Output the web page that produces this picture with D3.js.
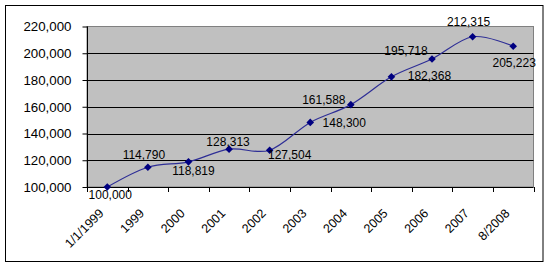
<!DOCTYPE html>
<html>
<head>
<meta charset="utf-8">
<script src="https://cdn.jsdelivr.net/npm/d3@7"></script>
<style>
  html, body { margin: 0; padding: 0; background: #fff; }
  svg { display: block; font-family: Arial, "Liberation Sans", sans-serif; }
</style>
</head>
<body>
<svg id="chart" width="550" height="268"></svg>
<script>
const categories = ["1/1/1999", "1999", "2000", "2001", "2002", "2003", "2004", "2005", "2006", "2007", "8/2008"];
const values = [100000, 114790, 118819, 128313, 127504, 148300, 161588, 182368, 195718, 212315, 205223];
const yTicks = [100000, 120000, 140000, 160000, 180000, 200000, 220000];
// label offsets (px) relative to each point, as placed in the original
const labelDx = [3, -4, 5, -1, 20, 34, -27, 38, -26, -4, 1];
const labelDy = [8, -12, 9, -7, 5, 0, -5, -1, -8, -15, 17];

const svg = d3.select("#chart");
const m = { left: 87, right: 533.5, top: 26.5, bottom: 187 };

// outer chart border
svg.append("rect").attr("x", 5.5).attr("y", 5.5).attr("width", 537.5).attr("height", 256)
  .attr("fill", "#fff").attr("stroke", "#000").attr("stroke-width", 1);

const x = d3.scaleBand().domain(categories).range([m.left, m.right]).padding(0);
const y = d3.scaleLinear().domain([100000, 220000]).range([m.bottom, m.top]);

// plot area
svg.append("rect").attr("x", m.left).attr("y", m.top)
  .attr("width", m.right - m.left).attr("height", m.bottom - m.top)
  .attr("fill", "#c0c0c0").attr("stroke", "#808080").attr("stroke-width", 1);

// gridlines
svg.append("g").selectAll("line").data(yTicks.slice(1, -1)).join("line")
  .attr("x1", m.left).attr("x2", m.right)
  .attr("y1", d => Math.round(y(d)) + 0.5).attr("y2", d => Math.round(y(d)) + 0.5)
  .attr("stroke", "#000").attr("stroke-width", 1);

// y axis
const fmt = d3.format(",");
const yAxis = svg.append("g").attr("transform", `translate(${m.left + 0.5},0)`)
  .call(d3.axisLeft(y).tickValues(yTicks).tickFormat(fmt).tickSize(5).tickPadding(11));
yAxis.select(".domain").attr("stroke", "#000").attr("d", `M0,${m.top}V${m.bottom}`);
yAxis.selectAll(".tick line").attr("stroke", "#000");
yAxis.selectAll(".tick text").attr("font-size", 13.3).attr("fill", "#000")
  .attr("font-family", "Arial, 'Liberation Sans', sans-serif");

// x axis line + ticks at category boundaries
const xg = svg.append("g");
xg.append("line").attr("x1", m.left).attr("x2", m.right)
  .attr("y1", m.bottom + 0.5).attr("y2", m.bottom + 0.5).attr("stroke", "#000");
const bounds = categories.map(c => x(c)).concat([x(categories[categories.length - 1]) + x.bandwidth()]);
xg.selectAll("line.t").data(bounds).join("line").attr("class", "t")
  .attr("x1", d => Math.round(d) + 0.5).attr("x2", d => Math.round(d) + 0.5)
  .attr("y1", m.bottom).attr("y2", m.bottom + 5).attr("stroke", "#000");
xg.selectAll("text").data(categories).join("text")
  .attr("transform", d => `translate(${x(d) + x.bandwidth() / 2 - 6},${m.bottom + 24}) rotate(-45)`)
  .attr("text-anchor", "end").attr("dy", "0.35em")
  .attr("font-size", 12.5).attr("fill", "#000").text(d => d);

// line
const cx = (d, i) => x(categories[i]) + x.bandwidth() / 2;
const line = d3.line().x((d, i) => cx(d, i)).y(d => y(d)).curve(d3.curveCardinal.tension(0));
svg.append("path").datum(values).attr("d", line)
  .attr("fill", "none").attr("stroke", "#2e2e96").attr("stroke-width", 1.2);

// markers: square diamonds
svg.append("g").selectAll("path").data(values).join("path")
  .attr("transform", (d, i) => `translate(${cx(d, i)},${y(d)})`)
  .attr("d", "M0,-3.8L3.8,0L0,3.8L-3.8,0Z")
  .attr("fill", "#000080");

// data labels
svg.append("g").selectAll("text").data(values).join("text")
  .attr("x", (d, i) => cx(d, i) + labelDx[i])
  .attr("y", (d, i) => y(d) + labelDy[i])
  .attr("text-anchor", "middle").attr("dy", "0.35em")
  .attr("font-size", 12).attr("fill", "#000")
  .text(d => fmt(d));
</script>
</body>
</html>
